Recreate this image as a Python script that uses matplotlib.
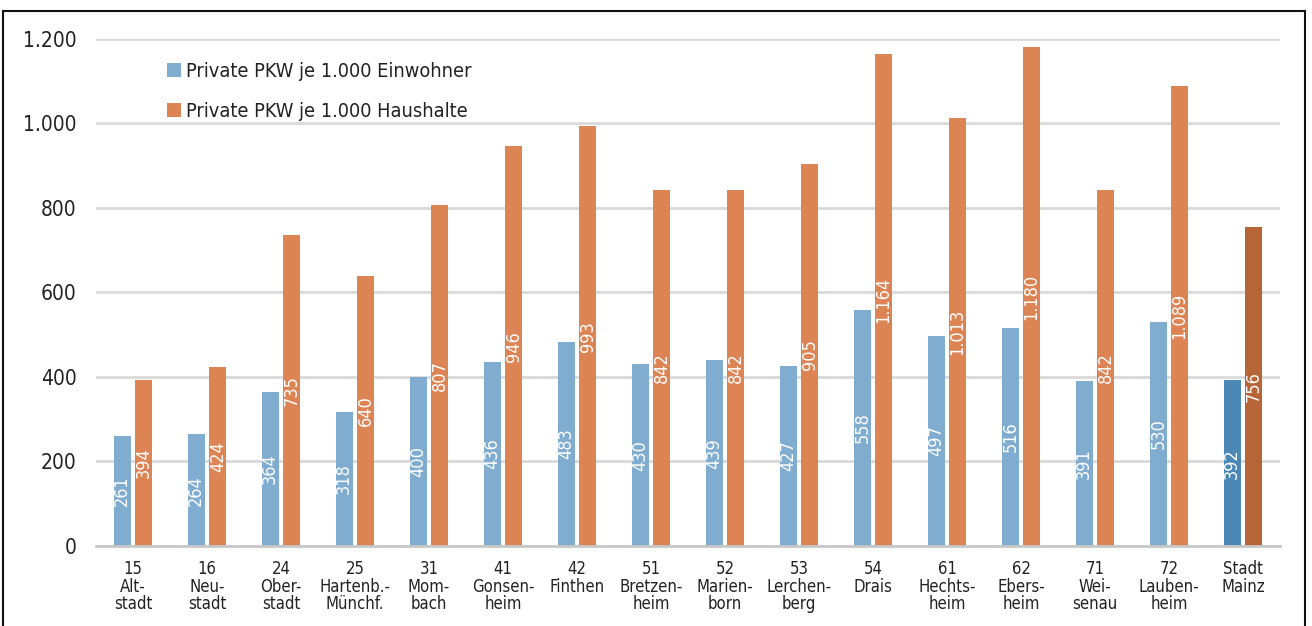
import matplotlib.pyplot as plt
import numpy as np
from matplotlib.patches import Rectangle
from matplotlib.ticker import FuncFormatter

plt.rcParams['font.family'] = ['DejaVu Sans']
plt.rcParams['font.stretch'] = 'condensed'

categories = ["15\nAlt-\nstadt", "16\nNeu-\nstadt", "24\nOber-\nstadt", "25\nHartenb.-\nMünchf.",
              "31\nMom-\nbach", "41\nGonsen-\nheim", "42\nFinthen", "51\nBretzen-\nheim",
              "52\nMarien-\nborn", "53\nLerchen-\nberg", "54\nDrais", "61\nHechts-\nheim",
              "62\nEbers-\nheim", "71\nWei-\nsenau", "72\nLauben-\nheim", "Stadt\nMainz"]
einwohner = [261, 264, 364, 318, 400, 436, 483, 430, 439, 427, 558, 497, 516, 391, 530, 392]
haushalte = [394, 424, 735, 640, 807, 946, 993, 842, 842, 905, 1164, 1013, 1180, 842, 1089, 756]
yticks = [0, 200, 400, 600, 800, 1000, 1200]


def de_fmt(v):
    return "{:,}".format(int(v)).replace(",", ".")


blue, orange = "#80acd0", "#dd8454"
blue_dark, orange_dark = "#4b88b6", "#b66537"

fig = plt.figure(figsize=(13.12, 6.26), dpi=100)
ax = fig.add_axes([0.0732, 0.1278, 0.9024, 0.81])

x = np.arange(len(categories))
w = 0.23
off = 0.145
bc = [blue] * (len(x) - 1) + [blue_dark]
oc = [orange] * (len(x) - 1) + [orange_dark]
b1 = ax.bar(x - off, einwohner, w, color=bc, label="Private PKW je 1.000 Einwohner", zorder=3)
b2 = ax.bar(x + off, haushalte, w, color=oc, label="Private PKW je 1.000 Haushalte", zorder=3)

for bars, vals in ((b1, einwohner), (b2, haushalte)):
    for rect, v in zip(bars, vals):
        ax.text(rect.get_x() + rect.get_width() / 2, v / 2, de_fmt(v), rotation=90,
                ha="center", va="center", color="white", fontsize=13, zorder=4)

ax.set_xlim(-0.5, len(x) - 0.5)
ax.set_ylim(0, 1200)
ax.set_yticks(yticks)
ax.yaxis.set_major_formatter(FuncFormatter(lambda v, p: de_fmt(v)))
ax.set_xticks(x)
ax.set_xticklabels(categories, fontsize=12, linespacing=0.98)
ax.tick_params(axis="y", length=0, pad=14, labelsize=15, colors="#222222")
ax.tick_params(axis="x", length=0, pad=10, colors="#222222")
ax.grid(axis="y", color="#d9d9d9", linewidth=2, zorder=0)
ax.set_axisbelow(True)
for s in ("top", "right", "left"):
    ax.spines[s].set_visible(False)
ax.spines["bottom"].set_color("#c8c8c8")
ax.spines["bottom"].set_linewidth(2)
ax.spines["bottom"].set_zorder(5)

leg = ax.legend(loc="upper left", bbox_to_anchor=(0.045, 0.99), frameon=False, fontsize=14.3,
                handlelength=0.7, handleheight=0.7, handletextpad=0.25, labelspacing=1.05)
for t in leg.get_texts():
    t.set_color("#222222")

fig.patches.append(Rectangle((3 / 1312, -0.1), 1302 / 1312, 1.1 - 11 / 626, transform=fig.transFigure,
                             fill=False, edgecolor="#111111", linewidth=1.5))

fig.savefig("out.png", dpi=100)
